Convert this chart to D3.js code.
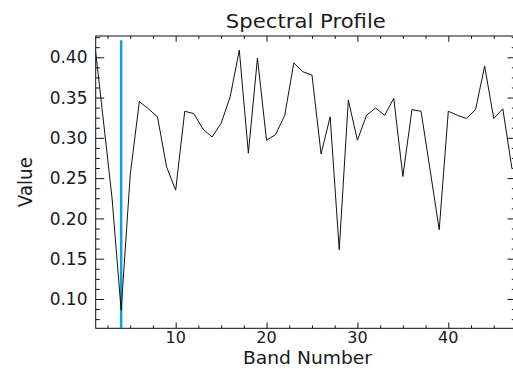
<!DOCTYPE html>
<html>
<head>
<meta charset="utf-8">
<script src="https://cdn.jsdelivr.net/npm/d3@7"></script>
<style>
  html, body { margin: 0; padding: 0; background: #fff; }
  svg { display: block; }
  text { font-family: "DejaVu Sans", sans-serif; fill: #1a1a1a; }
</style>
</head>
<body>
<div id="chart"></div>
<script>
// Spectral profile of one pixel, value per band
const bands = [1, 2, 3, 4, 5, 6, 7, 8, 9, 10, 11, 12, 13, 14, 15, 16, 17, 18, 19, 20,
               21, 22, 23, 24, 25, 26, 27, 28, 29, 30, 31, 32, 33, 34, 35, 36, 37, 38, 39, 40,
               41, 42, 43, 44, 45, 46, 47];
const values = [0.426, 0.326, 0.225, 0.086, 0.254, 0.345, 0.336, 0.326, 0.264, 0.235,
                0.333, 0.330, 0.311, 0.301, 0.318, 0.351, 0.409, 0.281, 0.399, 0.297,
                0.304, 0.328, 0.393, 0.382, 0.378, 0.280, 0.326, 0.161, 0.347, 0.297,
                0.328, 0.337, 0.328, 0.349, 0.252, 0.335, 0.333, 0.260, 0.186, 0.333,
                0.328, 0.324, 0.335, 0.389, 0.324, 0.336, 0.262];

const xMajorTicks = [10, 20, 30, 40];
const xMinorTicks = [2.5, 5, 7.5, 12.5, 15, 17.5, 22.5, 25, 27.5, 32.5, 35, 37.5, 42.5, 45, 47.5];
const yMajorTicks = [0.10, 0.15, 0.20, 0.25, 0.30, 0.35, 0.40];
const yMinorTicks = [0.075, 0.0875, 0.1125, 0.125, 0.1375, 0.1625, 0.175, 0.1875, 0.2125, 0.225,
                     0.2375, 0.2625, 0.275, 0.2875, 0.3125, 0.325, 0.3375, 0.3625, 0.375, 0.3875,
                     0.4125, 0.425];
const xDomain = [1.2, 47.45];
const yDomain = [0.0636, 0.4264];

// cursor line marking the selected band
const markerBand = 4;
const markerTop = 0.421;

const width = 513, height = 369;
const plot = {left: 95.7, top: 36, right: 516, bottom: 328.3};

const svg = d3.select('#chart').append('svg')
    .attr('width', width)
    .attr('height', height);

const x = d3.scaleLinear().domain(xDomain).range([plot.left, plot.right]);
const y = d3.scaleLinear().domain(yDomain).range([plot.bottom, plot.top]);

svg.append('defs').append('clipPath').attr('id', 'plot-clip')
  .append('rect')
    .attr('x', plot.left).attr('y', plot.top)
    .attr('width', plot.right - plot.left)
    .attr('height', plot.bottom - plot.top);

// ticks on all four sides, pointing inward (IDL style)
function tickAxis(axisFn, scale, values, size, offset) {
    const g = svg.append('g')
        .attr('transform', offset)
        .call(axisFn(scale).tickValues(values).tickSize(size).tickFormat(''));
    g.select('.domain').remove();
    g.selectAll('line').attr('stroke', '#111').attr('stroke-width', 1);
    return g;
}

tickAxis(d3.axisBottom, x, xMajorTicks, -5.8, `translate(0,${plot.bottom})`);
tickAxis(d3.axisBottom, x, xMinorTicks, -2.9, `translate(0,${plot.bottom})`);
tickAxis(d3.axisTop, x, xMajorTicks, -5.8, `translate(0,${plot.top})`);
tickAxis(d3.axisTop, x, xMinorTicks, -2.9, `translate(0,${plot.top})`);
tickAxis(d3.axisLeft, y, yMajorTicks, -8.5, `translate(${plot.left},0)`);
tickAxis(d3.axisLeft, y, yMinorTicks, -4.2, `translate(${plot.left},0)`);
tickAxis(d3.axisRight, y, yMajorTicks, -8.5, `translate(${plot.right},0)`);
tickAxis(d3.axisRight, y, yMinorTicks, -4.2, `translate(${plot.right},0)`);

// frame
svg.append('rect')
    .attr('x', plot.left).attr('y', plot.top)
    .attr('width', plot.right - plot.left)
    .attr('height', plot.bottom - plot.top)
    .attr('fill', 'none')
    .attr('stroke', '#111')
    .attr('stroke-width', 1);

// tick labels
svg.append('g').selectAll('text')
    .data(xMajorTicks)
    .join('text')
    .attr('x', d => x(d))
    .attr('y', plot.bottom + 15)
    .attr('text-anchor', 'middle')
    .attr('font-size', 16)
    .text(d => d);

svg.append('g').selectAll('text')
    .data(yMajorTicks)
    .join('text')
    .attr('x', 87.5)
    .attr('y', d => y(d) + 6.2)
    .attr('text-anchor', 'end')
    .attr('font-size', 17)
    .text(d => d3.format('.2f')(d));

// titles
svg.append('text')
    .attr('x', (plot.left + plot.right) / 2)
    .attr('y', 27.5)
    .attr('text-anchor', 'middle')
    .attr('font-size', 20)
    .attr('textLength', 160)
    .attr('lengthAdjust', 'spacingAndGlyphs')
    .text('Spectral Profile');

svg.append('text')
    .attr('x', 307.5)
    .attr('y', 364)
    .attr('text-anchor', 'middle')
    .attr('font-size', 17)
    .attr('textLength', 129)
    .attr('lengthAdjust', 'spacingAndGlyphs')
    .text('Band Number');

svg.append('text')
    .attr('transform', `translate(32,${(plot.top + plot.bottom) / 2}) rotate(-90)`)
    .attr('text-anchor', 'middle')
    .attr('font-size', 19)
    .attr('textLength', 50)
    .attr('lengthAdjust', 'spacingAndGlyphs')
    .text('Value');

const inner = svg.append('g').attr('clip-path', 'url(#plot-clip)');

// cyan cursor
inner.append('line')
    .attr('x1', x(markerBand)).attr('x2', x(markerBand))
    .attr('y1', y(markerTop)).attr('y2', plot.bottom)
    .attr('stroke', '#12a0dc')
    .attr('stroke-width', 2.5);

// profile line
const line = d3.line()
    .x((d, i) => x(bands[i]))
    .y(d => y(d));

inner.append('path')
    .datum(values)
    .attr('d', line)
    .attr('fill', 'none')
    .attr('stroke', '#111')
    .attr('stroke-width', 1);
</script>
</body>
</html>
